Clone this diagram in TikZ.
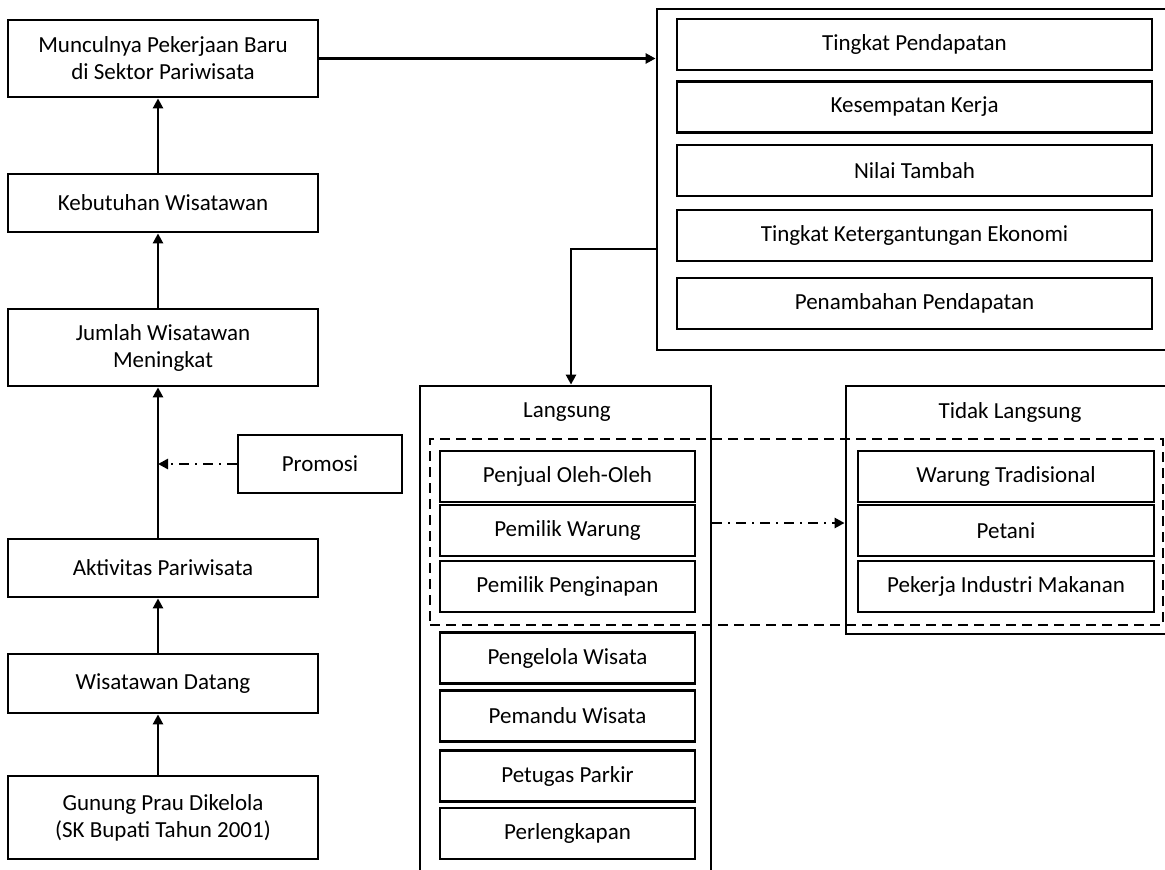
\documentclass[tikz,border=0pt]{standalone}
\usepackage{fontspec}
\setmainfont{Carlito}
\usepackage{tikz}
\usetikzlibrary{
  arrows.meta,
  positioning
}
\tikzset{
  flowbox/.style={draw, line width=2.8pt, align=center, inner sep=0pt,
    minimum width=310pt, font=\fontsize{23}{27}\selectfont},
  listbox/.style={draw, line width=2.8pt, align=center, inner sep=0pt,
    minimum height=51pt, font=\fontsize{23}{27}\selectfont},
  groupbox/.style={draw, line width=2.8pt, inner sep=0pt},
  grouplabel/.style={font=\fontsize{23}{27}\selectfont},
  arr/.style={-{Triangle[length=10pt, width=10pt]}, line width=2.8pt},
  dasharr/.style={-{Triangle[length=10pt, width=10pt]}, line width=2.8pt,
    dash pattern=on 10pt off 6pt on 2pt off 6pt},
}

\begin{document}
\begin{tikzpicture}[x=1pt, y=-1pt]
  \useasboundingbox (0,0) rectangle (1165,870);

  % left column
  \node[flowbox, minimum height=77pt] (muncul) at (163,58.5)
    {Munculnya Pekerjaan Baru\\di Sektor Pariwisata};
  \node[flowbox, minimum height=58pt] (butuh) at (163,203)
    {Kebutuhan Wisatawan};
  \node[flowbox, minimum height=77pt] (jumlah) at (163,347.5)
    {Jumlah Wisatawan\\Meningkat};
  \node[flowbox, minimum height=58pt] (aktif) at (163,568)
    {Aktivitas Pariwisata};
  \node[flowbox, minimum height=59pt] (datang) at (163,683.5)
    {Wisatawan Datang};
  \node[flowbox, minimum height=83pt] (gunung) at (163,817.5)
    {Gunung Prau Dikelola\\(SK Bupati Tahun 2001)};
  \node[flowbox, minimum width=164pt, minimum height=58pt] (promosi) at (320,464)
    {Promosi};

  \foreach \a/\b in {gunung/datang, datang/aktif, aktif/jumlah,
                     jumlah/butuh, butuh/muncul} {
    \draw[arr] ([xshift=-5pt]\a.north) -- ([xshift=-5pt]\b.south);
  }
  \draw[dasharr] (promosi.west) -- ([xshift=-5pt]promosi.west -| jumlah.south);

  % economic impacts
  \node[groupbox, minimum width=515pt, minimum height=341pt] (dampak) at (914.5,179.5) {};
  \foreach \y/\n/\t in {44.5/d1/Tingkat Pendapatan, 107/d2/Kesempatan Kerja,
                        170.5/d3/Nilai Tambah, 235.5/d4/Tingkat Ketergantungan Ekonomi,
                        303.5/d5/Penambahan Pendapatan} {
    \node[listbox, minimum width=475pt] (\n) at (914.5,\y) {\t};
  }
  \draw[arr] (muncul.east) -- (muncul.east -| dampak.west);

  % direct
  \node[groupbox, minimum width=291pt, minimum height=504pt] (langsung) at (565.5,638) {};
  \node[grouplabel] (langsunglbl) at (567,412) {Langsung};
  \foreach \y/\n/\t in {476.5/l1/Penjual Oleh-Oleh, 530.5/l2/Pemilik Warung,
                        586.5/l3/Pemilik Penginapan, 658/l4/Pengelola Wisata,
                        716/l5/Pemandu Wisata, 776/l6/Petugas Parkir,
                        833.5/l7/Perlengkapan} {
    \node[listbox, minimum width=255pt] (\n) at (567.5,\y) {\t};
  }
  \draw[arr] ([yshift=-69.5pt]dampak.west) -| ([xshift=5.5pt]langsung.north);

  % indirect
  \node[groupbox, minimum width=328pt, minimum height=248pt] (tidak) at (1010,510) {};
  \node[grouplabel] (tidaklbl) at (1010,412) {Tidak Langsung};
  \foreach \y/\n/\t in {476.5/t1/Warung Tradisional, 530.5/t2/Petani,
                        586.5/t3/Pekerja Industri Makanan} {
    \node[listbox, minimum width=296pt] (\n) at (1006,\y) {\t};
  }

  % dashed group
  \node[draw, line width=2.8pt, dash pattern=on 10pt off 6pt,
        minimum width=733pt, minimum height=186pt] (kelompok) at (796.5,532) {};
  \coordinate (mid) at (0,523);
  \draw[dasharr] (langsung.east |- mid) -- (tidak.west |- mid);
\end{tikzpicture}
\end{document}
